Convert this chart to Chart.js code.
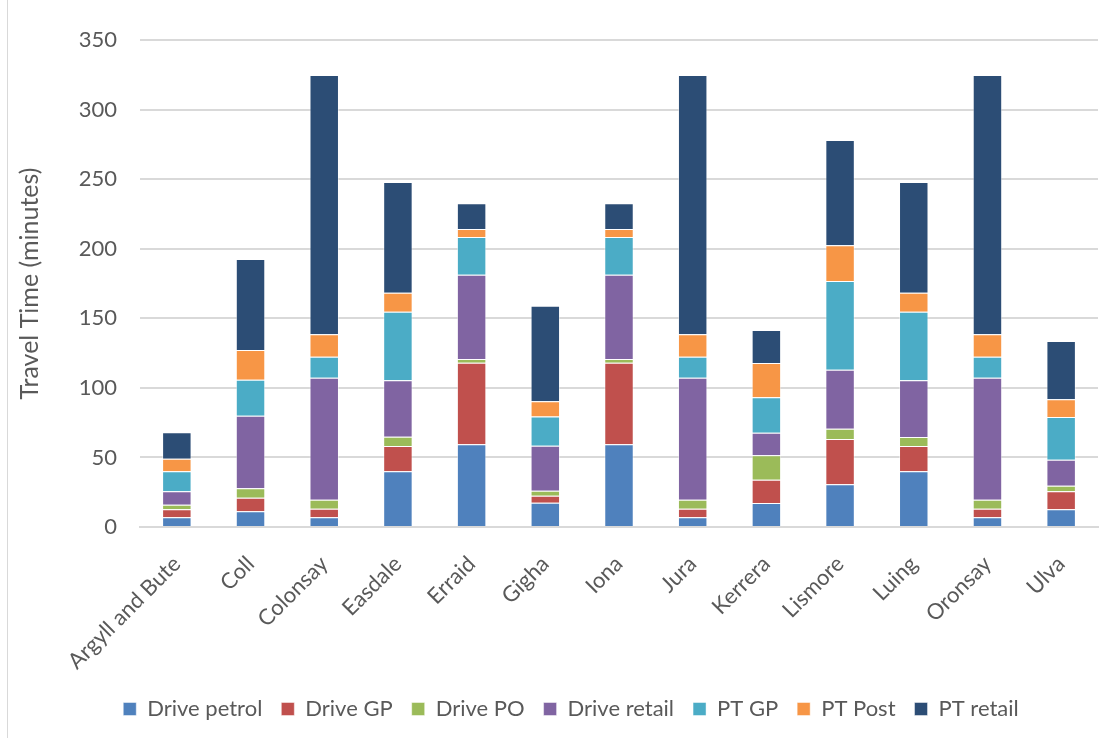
<!DOCTYPE html>
<html>
<head>
<meta charset="utf-8">
<script src="https://cdn.jsdelivr.net/npm/chart.js@4/dist/chart.umd.min.js"></script>
<style>
  html, body { margin: 0; padding: 0; background: #fff; }
  #wrap { position: relative; width: 1114px; height: 738px; }
</style>
</head>
<body>
<div id="wrap"><canvas id="c" width="1114" height="738"></canvas></div>
<script>
const categories = ['Argyll and Bute','Coll','Colonsay','Easdale','Erraid','Gigha','Iona','Jura','Kerrera','Lismore','Luing','Oronsay','Ulva'];
const drivePetrol = [7, 11.3, 7, 40, 59.4, 17.5, 59.4, 7, 17.2, 30.7, 40, 7, 12.7];
const driveGP     = [5.7, 9.8, 6.2, 18.2, 58.7, 5, 58.7, 6.2, 16.8, 32.5, 18.2, 6.2, 13];
const drivePO     = [3.3, 6.7, 6.4, 6.7, 2.6, 3.6, 2.6, 6.4, 17.5, 7.5, 6.5, 6.4, 4];
const driveRetail = [9.7, 52.2, 87.7, 40.5, 60.6, 32.3, 60.6, 87.7, 16.3, 42.4, 40.7, 87.7, 18.7];
const ptGP        = [14.3, 25.9, 15.1, 49.3, 27.1, 21.1, 27.1, 15.1, 25.4, 63.7, 49.3, 15.1, 30.7];
const ptPost      = [9.1, 21.3, 16.1, 13.7, 5.8, 10.8, 5.8, 16.1, 24.7, 25.6, 13.7, 16.1, 12.7];
const ptRetail    = [19, 65.4, 186.3, 79.5, 18.4, 68.7, 18.4, 186.3, 23.7, 75.7, 79.5, 186.3, 41.9];
const yTicks = [0, 50, 100, 150, 200, 250, 300, 350];

const seriesNames = ['Drive petrol','Drive GP','Drive PO','Drive retail','PT GP','PT Post','PT retail'];
const seriesData = [drivePetrol, driveGP, drivePO, driveRetail, ptGP, ptPost, ptRetail];
const seriesColors = ['#4F81BD','#C0504D','#9BBB59','#8064A2','#4BACC6','#F79646','#2C4D75'];

const FONT = 'Lato, "Open Sans", sans-serif';
const TXT = '#595959';

const borderPlugin = {
  id: 'chartBorder',
  afterLayout(chart) {
    if (chart.legend) { chart.legend.left += 22; chart.legend.right += 22; }
  },
  beforeDraw(chart) {
    const ctx = chart.ctx;
    ctx.save();
    ctx.strokeStyle = '#d9d9d9';
    ctx.lineWidth = 1;
    ctx.beginPath();
    ctx.moveTo(7.5, 0);
    ctx.lineTo(7.5, chart.height);
    ctx.stroke();
    ctx.restore();
  }
};

new Chart(document.getElementById('c'), {
  type: 'bar',
  data: {
    labels: categories,
    datasets: seriesNames.map((n, i) => ({
      label: n,
      data: seriesData[i],
      backgroundColor: seriesColors[i],
      borderColor: 'rgba(255,255,255,0.45)',
      borderWidth: 1,
      barPercentage: 0.4,
      categoryPercentage: 1.0
    }))
  },
  options: {
    responsive: false,
    animation: false,
    layout: { padding: { left: 0, right: 16, top: 40, bottom: 8 } },
    plugins: {
      legend: {
        position: 'bottom',
        labels: {
          font: { family: FONT, size: 22 },
          color: TXT,
          boxWidth: 13,
          boxHeight: 13,
          padding: 19
        }
      },
      tooltip: { enabled: false }
    },
    scales: {
      x: {
        stacked: true,
        grid: { display: false },
        border: { color: '#d9d9d9', width: 2 },
        ticks: {
          font: { family: FONT, size: 22 },
          color: TXT,
          minRotation: 45,
          maxRotation: 45,
          padding: 16
        },
        afterFit(s) { s.height = 152; }
      },
      y: {
        stacked: true,
        min: 0,
        max: 350,
        afterBuildTicks(s) { s.ticks = yTicks.map(v => ({ value: v })); },
        grid: { color: '#d9d9d9', lineWidth: 2, drawTicks: false },
        border: { display: false },
        ticks: {
          font: { family: FONT, size: 22 },
          color: TXT,
          padding: 23
        },
        title: {
          display: true,
          text: 'Travel Time (minutes)',
          font: { family: FONT, size: 25 },
          color: TXT,
          padding: { top: 15, bottom: 0 }
        },
        afterFit(s) { s.width = 140; }
      }
    }
  },
  plugins: [borderPlugin]
});
</script>
</body>
</html>
